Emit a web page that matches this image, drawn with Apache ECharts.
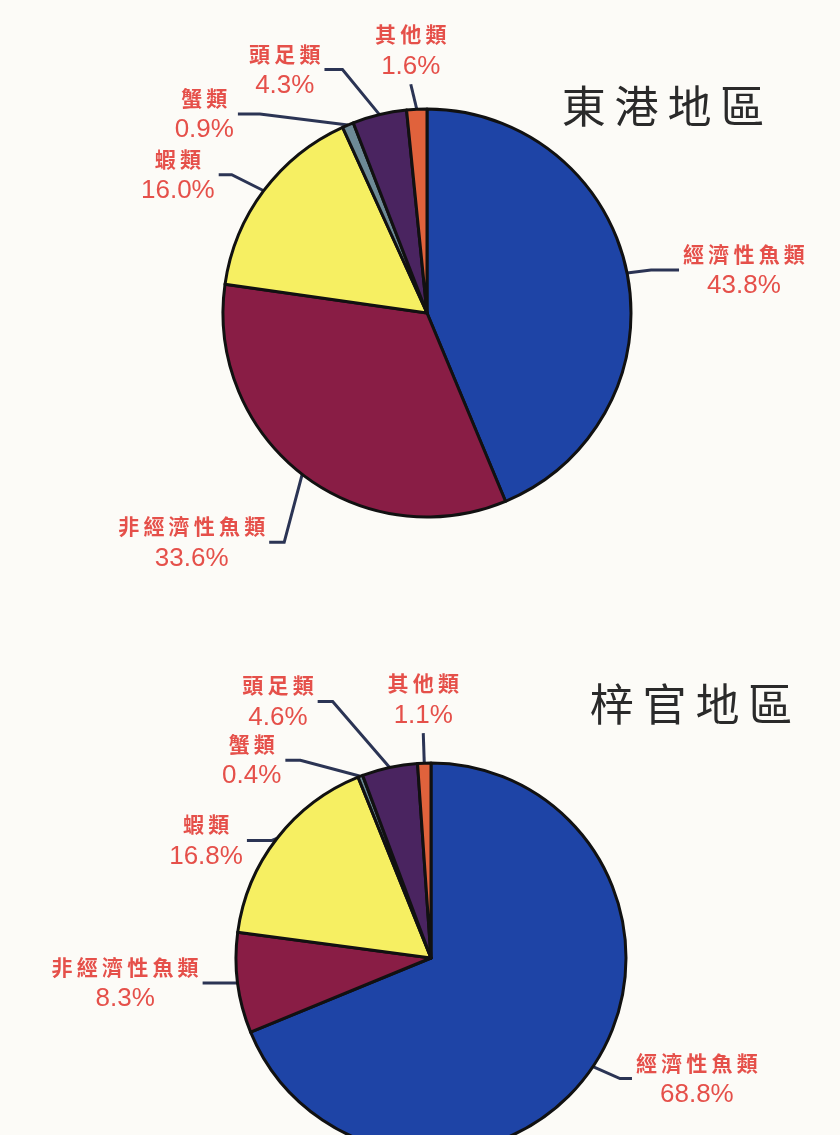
<!DOCTYPE html>
<html>
<head>
<meta charset="utf-8">
<script src="https://cdn.jsdelivr.net/npm/echarts@6/dist/echarts.min.js"></script>
<style>
  html, body { margin: 0; padding: 0; background: #fcfbf7; }
  #main { width: 840px; height: 1135px; }
</style>
</head>
<body>
<div id="main"></div>
<script>
// 魚獲組成比例（%）
const categories = ['經濟性魚類', '非經濟性魚類', '蝦類', '蟹類', '頭足類', '其他類'];
const donggangValues = [43.8, 33.6, 16.0, 0.9, 4.3, 1.6];
const ziguanValues = [68.8, 8.3, 16.8, 0.4, 4.6, 1.1];
const regionNames = ['東港地區', '梓官地區'];

const sliceColors = ['#1e44a6', '#891d45', '#f6ef62', '#6d8a96', '#4a2460', '#e0623c'];
const labelRed = '#e5504a';
const lineNavy = '#2b3454';

// 標籤折線：bend = 從扇區邊緣到轉折點, tail = 水平段, side = 文字位置
const labelPlans = [
  [
    { bend: [24, -3], tail: 28, side: 'right' },
    { bend: [-18, 68], tail: -15, side: 'left' },
    { bend: [-32, -16], tail: -13, side: 'left' },
    { bend: [-88, -11], tail: -22, side: 'left' },
    { bend: [-37, -45], tail: -18, side: 'left' },
    { bend: [-6, -25], tail: 0, side: 'top' }
  ],
  [
    { bend: [27, 12], tail: 12, side: 'right' },
    { bend: [-20, 0], tail: -15, side: 'left' },
    { bend: [-5, 2], tail: -25, side: 'left' },
    { bend: [-60, -16], tail: -15, side: 'left' },
    { bend: [-57, -66], tail: -15, side: 'left' },
    { bend: [-1, -30], tail: 0, side: 'top' }
  ]
];

function spaced(s) {
  return s.split('').join('\u2009');
}

function makeData(values) {
  return categories.map(function (name, i) {
    return { name: name, value: values[i], itemStyle: { color: sliceColors[i] } };
  });
}

function makeLabelLayout(plan) {
  return function (params) {
    const cfg = plan[params.dataIndex];
    const pts = params.labelLinePoints;
    if (!cfg || !pts) return {};
    const p0 = pts[0];
    const p1 = [p0[0] + cfg.bend[0], p0[1] + cfg.bend[1]];
    const p2 = [p1[0] + cfg.tail, p1[1]];
    const w = params.labelRect.width;
    const h = params.labelRect.height;
    let x = p2[0], y = p2[1];
    if (cfg.side === 'right') x = p2[0] + 4 + w / 2;
    else if (cfg.side === 'left') x = p2[0] - 4 - w / 2;
    else y = p2[1] - 6 - h / 2;
    return {
      x: x,
      y: y,
      align: 'center',
      verticalAlign: 'middle',
      labelLinePoints: [p0, p1, p2]
    };
  };
}

function makeSeries(values, center, radius, plan) {
  return {
    type: 'pie',
    center: center,
    radius: radius,
    startAngle: 90,
    clockwise: true,
    avoidLabelOverlap: false,
    silent: true,
    animation: false,
    data: makeData(values),
    itemStyle: { borderColor: '#111', borderWidth: 3 },
    label: {
      show: true,
      position: 'outside',
      formatter: function (p) {
        return '{n|' + spaced(p.name) + '}\n{p|' + p.value.toFixed(1) + '%}';
      },
      rich: {
        n: {
          fontFamily: 'Noto Sans CJK TC',
          fontWeight: 'bold',
          fontSize: 21,
          color: labelRed,
          lineHeight: 32
        },
        p: {
          fontFamily: 'Liberation Sans',
          fontSize: 26,
          color: labelRed,
          lineHeight: 32
        }
      }
    },
    labelLine: {
      show: true,
      length: 20,
      length2: 15,
      lineStyle: { color: lineNavy, width: 3 }
    },
    labelLayout: makeLabelLayout(plan)
  };
}

const chart = echarts.init(document.getElementById('main'), null, { renderer: 'canvas' });

const option = {
  backgroundColor: '#fcfbf7',
  graphic: [
    {
      type: 'text',
      x: 663, y: 106,
      style: {
        text: spaced(regionNames[0]),
        fontFamily: 'Noto Sans CJK TC',
        fontSize: 44,
        fill: '#2a2a2a',
        align: 'center',
        verticalAlign: 'middle'
      }
    },
    {
      type: 'text',
      x: 691, y: 704,
      style: {
        text: spaced(regionNames[1]),
        fontFamily: 'Noto Sans CJK TC',
        fontSize: 44,
        fill: '#2a2a2a',
        align: 'center',
        verticalAlign: 'middle'
      }
    }
  ],
  series: [
    makeSeries(donggangValues, [427, 313], 204, labelPlans[0]),
    makeSeries(ziguanValues, [431, 958], 195, labelPlans[1])
  ]
};

chart.setOption(option);
</script>
</body>
</html>
